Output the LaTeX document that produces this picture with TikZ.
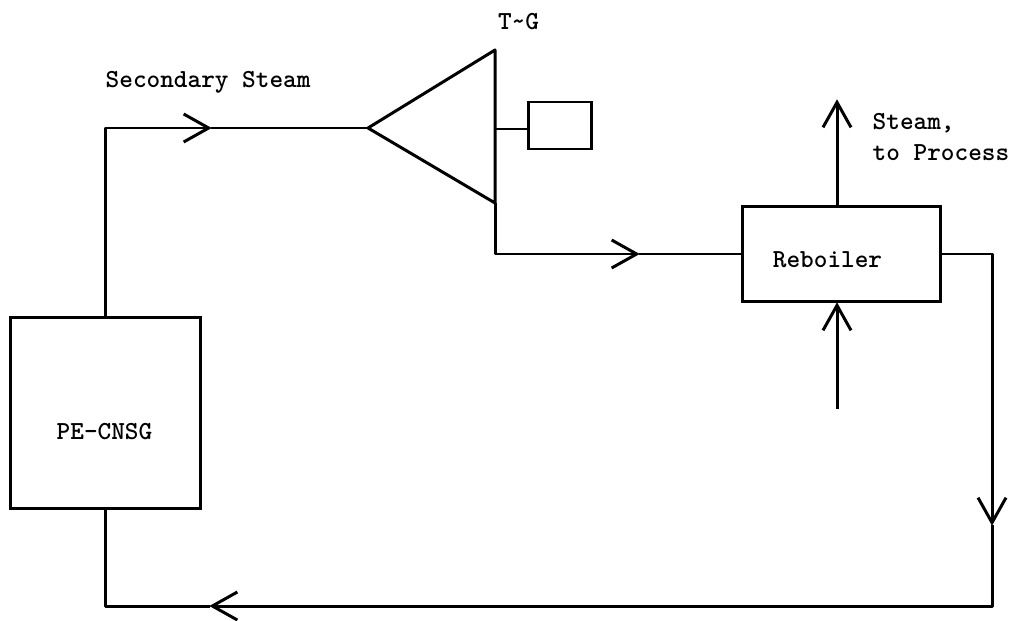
\documentclass[tikz,border=0pt]{standalone}
\usepackage{tikz}
\usetikzlibrary{arrows.meta}

\tikzset{
	pipe/.style={line width=0.85pt, line join=round},
	flow/.style={pipe, -{Straight Barb[length=2.5mm, width=2.8mm, line width=0.85pt]}, shorten >=-0.2pt},
	box/.style={draw, line width=0.85pt, inner sep=0pt},
	typed/.style={font=\fontsize{7.4}{9}\selectfont\ttfamily\bfseries, inner sep=0pt}
}

\begin{document}
\begin{tikzpicture}
	\useasboundingbox (0,0) rectangle (10.17,6.2);
	% equipment
	\node[box, minimum width=1.90cm, minimum height=1.91cm] (cnsg) at (1.055,2.075) {};
	\node[box, minimum width=1.98cm, minimum height=0.95cm] (reboiler) at (8.41,3.66) {};
	\node[box, minimum width=0.63cm, minimum height=0.47cm] (gen) at (5.595,4.945) {};
	\coordinate (apex) at (3.68,4.92);
	\coordinate (ttop) at (4.95,5.70);
	\coordinate (tbot) at (4.95,4.17);
	\coordinate (shaft) at (4.95,4.91);
	\draw[pipe] (apex) -- (ttop) -- (tbot) -- cycle;
	% arrow tips along the loop
	\coordinate (tipa) at (2.11,4.92);
	\coordinate (tipb) at (6.39,3.66);
	\coordinate (tipc) at (9.92,0.95);
	\coordinate (tipd) at (2.10,0.14);
	\coordinate (tipe) at (8.37,5.20);
	\coordinate (inlet) at (8.37,2.11);
	% loop
	\draw[flow] (cnsg.north) |- (tipa);
	\draw[pipe] (tipa) -- (apex);
	\draw[flow] (tbot) |- (tipb);
	\draw[pipe] (tipb) -- (reboiler.west |- tipb);
	\draw[flow] (reboiler.east) -| (tipc);
	\draw[flow] (tipc) |- (tipd);
	\draw[pipe] (tipd) -| (cnsg.south);
	\draw[pipe] (shaft) -- (shaft -| gen.west);
	\draw[flow] (tipe |- reboiler.north) -- (tipe);
	\draw[flow] (inlet) -- (inlet |- reboiler.south);
	% labels
	\node[typed, anchor=center] (cnsglabel) at (1.045,1.88) {PE-CNSG};
	\node[typed, anchor=center] (reblabel) at (8.275,3.60) {Reboiler};
	\node[typed, anchor=center] (tglabel) at (5.185,5.98) {T\textasciitilde G};
	\node[typed, anchor=west] (steamlabel) at (1.05,5.38) {Secondary Steam};
	\node[typed, anchor=west] (outa) at (8.72,4.97) {Steam,};
	\node[typed, anchor=west] (outb) at (8.72,4.67) {to Process};
\end{tikzpicture}
\end{document}
